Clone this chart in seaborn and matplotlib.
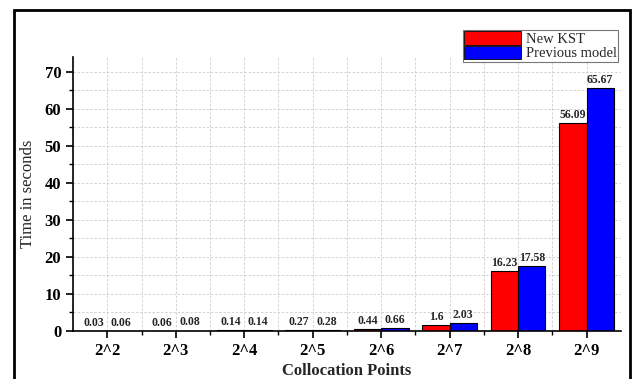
import matplotlib
matplotlib.use("Agg")
import matplotlib.pyplot as plt
import seaborn as sns
import pandas as pd
from matplotlib.patches import Rectangle, Patch
from matplotlib.ticker import MultipleLocator

categories = ["2^2", "2^3", "2^4", "2^5", "2^6", "2^7", "2^8", "2^9"]
new_kst = [0.03, 0.06, 0.14, 0.27, 0.44, 1.6, 16.23, 56.09]
previous_model = [0.06, 0.08, 0.14, 0.28, 0.66, 2.03, 17.58, 65.67]
series_names = ["New KST", "Previous model"]
colors = ["#ff0000", "#0000ff"]

df = pd.DataFrame({
    "cat": categories * 2,
    "val": new_kst + previous_model,
    "series": [series_names[0]] * len(categories) + [series_names[1]] * len(categories),
})

sns.set_style("white")
plt.rcParams["font.family"] = ["Liberation Serif", "DejaVu Serif"]

fig = plt.figure(figsize=(6.36, 3.79), dpi=100)
ax = fig.add_axes([0.115, 0.127, 0.861, 0.723])

sns.barplot(data=df, x="cat", y="val", hue="series", palette=colors,
            edgecolor="black", linewidth=0.8, width=0.8, saturation=1,
            legend=False, ax=ax)

for cont, vals in zip(ax.containers, [new_kst, previous_model]):
    ax.bar_label(cont, labels=["{:g}".format(v) for v in vals], padding=1.5,
                 fontsize=8.5, fontweight="bold")

ax.set_xlim(-0.5, len(categories) - 0.5)
ax.set_ylim(0, 74)
ax.yaxis.set_major_locator(MultipleLocator(10))
ax.yaxis.set_minor_locator(MultipleLocator(5))
ax.set_xticks([i + 0.5 for i in range(len(categories) - 1)], minor=True)

ax.grid(True, which="both", axis="both", linestyle=(0, (3, 2)), color="#cccccc", linewidth=0.6)
ax.set_axisbelow(True)

for s in ["top", "right"]:
    ax.spines[s].set_visible(False)
for s in ["left", "bottom"]:
    ax.spines[s].set_color("black")
    ax.spines[s].set_linewidth(1.2)

ax.tick_params(axis="both", which="major", direction="out", length=5, width=1.2,
               colors="black", labelsize=12, bottom=True, left=True)
ax.tick_params(axis="both", which="minor", direction="out", length=3, width=1.0,
               colors="black", bottom=True, left=True)
for lbl in ax.get_xticklabels() + ax.get_yticklabels():
    lbl.set_fontweight("bold")

ax.set_xlabel("Collocation Points", fontsize=12, fontweight="bold", labelpad=3)
ax.set_ylabel("Time in seconds", fontsize=12, labelpad=6)

handles = [Patch(facecolor=c, edgecolor="black", linewidth=0.6) for c in colors]
leg = ax.legend(handles, series_names, loc="upper right", bbox_to_anchor=(0.995, 1.098),
                fontsize=10.5, frameon=True, fancybox=False, handlelength=3.9,
                handleheight=1.0, handletextpad=0.3, borderpad=0.1,
                labelspacing=0.0, borderaxespad=0.0)
leg.get_frame().set_edgecolor("#555555")
leg.get_frame().set_linewidth(0.8)

fig.patches.append(Rectangle((0.022, -0.1), 0.968, 1.073, transform=fig.transFigure,
                             fill=False, edgecolor="black", linewidth=2.0))

fig.savefig("out.png", dpi=100)
